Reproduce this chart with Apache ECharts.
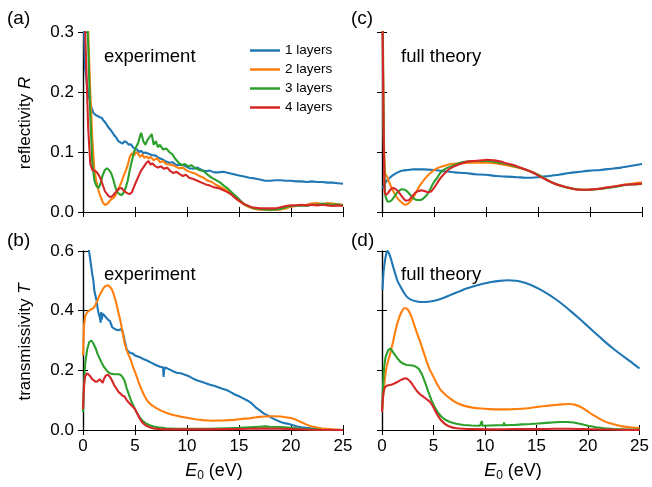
<!DOCTYPE html>
<html><head><meta charset="utf-8">
<script src="https://cdn.jsdelivr.net/npm/echarts@6/dist/echarts.min.js"></script>
<style>html,body{margin:0;padding:0;background:#fff}#c{width:652px;height:487px}</style>
</head><body><div id="c"></div>
<script>
const layerNames = ['1 layers','2 layers','3 layers','4 layers'];
const colors = ['#1f77b4','#ff7f0e','#2ca02c','#d62728'];

// (a) experiment reflectivity
const expR1 = [[0.05,0.33],[0.2,0.24],[0.4,0.21],[0.6,0.19],[0.8,0.175],[1.0,0.165],[1.2,0.162],[1.4,0.16],[1.6,0.158],[1.8,0.157],[2.0,0.152],[2.2,0.148],[2.4,0.142],[2.6,0.138],[2.8,0.133],[3.0,0.128],[3.2,0.124],[3.4,0.118],[3.6,0.116],[3.8,0.114],[4.0,0.118],[4.2,0.116],[4.4,0.112],[4.6,0.113],[4.8,0.108],[5.0,0.105],[5.2,0.104],[5.4,0.1],[5.6,0.102],[5.8,0.098],[6.0,0.099],[6.3,0.097],[6.6,0.095],[7.0,0.094],[7.3,0.09],[7.6,0.088],[8.0,0.084],[8.3,0.082],[8.6,0.083],[9.0,0.078],[9.4,0.079],[9.8,0.077],[10.2,0.073],[10.6,0.072],[11.0,0.074],[11.4,0.07],[11.8,0.068],[12.2,0.069],[12.6,0.066],[13.0,0.066],[13.5,0.067],[14.0,0.065],[14.5,0.063],[15.0,0.061],[15.5,0.059],[16.0,0.057],[16.5,0.056],[17.0,0.054],[17.5,0.052],[18.0,0.052],[18.5,0.053],[19.0,0.053],[19.5,0.052],[20.0,0.052],[20.5,0.051],[21.0,0.051],[21.5,0.05],[22.0,0.051],[22.5,0.05],[23.0,0.05],[23.5,0.049],[24.0,0.049],[24.5,0.048],[25.0,0.047]];
const expR2 = [[0.3,0.35],[0.5,0.3],[0.7,0.2],[0.9,0.12],[1.1,0.068],[1.3,0.05],[1.5,0.035],[1.7,0.025],[1.9,0.016],[2.1,0.012],[2.3,0.013],[2.5,0.017],[2.7,0.021],[2.9,0.023],[3.1,0.027],[3.3,0.035],[3.5,0.042],[3.7,0.05],[3.9,0.06],[4.1,0.068],[4.3,0.078],[4.5,0.092],[4.7,0.098],[4.9,0.094],[5.1,0.1],[5.3,0.097],[5.5,0.092],[5.7,0.096],[5.9,0.09],[6.1,0.093],[6.3,0.089],[6.5,0.092],[6.8,0.086],[7.1,0.09],[7.4,0.083],[7.7,0.085],[8.0,0.08],[8.4,0.079],[8.8,0.077],[9.2,0.073],[9.6,0.074],[10.0,0.069],[10.4,0.066],[10.8,0.064],[11.2,0.06],[11.6,0.057],[12.0,0.052],[12.4,0.05],[12.8,0.045],[13.2,0.042],[13.6,0.038],[14.0,0.034],[14.4,0.028],[14.8,0.021],[15.2,0.016],[15.6,0.011],[16.0,0.008],[16.5,0.005],[17.0,0.004],[17.5,0.004],[18.0,0.003],[18.5,0.004],[19.0,0.004],[19.5,0.006],[20.0,0.009],[20.5,0.01],[21.0,0.011],[21.5,0.012],[22.0,0.014],[22.5,0.015],[23.0,0.013],[23.5,0.015],[24.0,0.014],[24.5,0.013],[25.0,0.012]];
const expR3 = [[0.3,0.35],[0.5,0.28],[0.7,0.16],[0.9,0.08],[1.1,0.052],[1.3,0.043],[1.5,0.04],[1.7,0.048],[1.9,0.062],[2.1,0.07],[2.3,0.073],[2.5,0.07],[2.7,0.065],[2.9,0.055],[3.1,0.042],[3.3,0.033],[3.5,0.03],[3.7,0.028],[3.9,0.032],[4.1,0.04],[4.3,0.052],[4.5,0.07],[4.7,0.085],[4.9,0.1],[5.1,0.108],[5.3,0.115],[5.5,0.128],[5.6,0.132],[5.8,0.118],[6.0,0.112],[6.2,0.12],[6.4,0.125],[6.6,0.13],[6.8,0.112],[7.0,0.118],[7.2,0.108],[7.4,0.112],[7.7,0.104],[8.0,0.106],[8.3,0.1],[8.6,0.096],[8.9,0.088],[9.2,0.082],[9.5,0.078],[9.8,0.08],[10.1,0.076],[10.4,0.078],[10.8,0.073],[11.2,0.07],[11.6,0.068],[12.0,0.062],[12.4,0.057],[12.8,0.053],[13.2,0.049],[13.6,0.043],[14.0,0.038],[14.4,0.031],[14.8,0.025],[15.2,0.018],[15.6,0.012],[16.0,0.009],[16.5,0.006],[17.0,0.005],[17.5,0.004],[18.0,0.004],[18.5,0.004],[19.0,0.005],[19.5,0.008],[20.0,0.01],[20.5,0.01],[21.0,0.011],[21.5,0.01],[22.0,0.012],[22.5,0.012],[23.0,0.014],[23.5,0.013],[24.0,0.012],[24.5,0.013],[25.0,0.011]];
const expR4 = [[0.15,0.33],[0.3,0.25],[0.5,0.14],[0.7,0.08],[0.9,0.07],[1.1,0.069],[1.3,0.067],[1.5,0.062],[1.7,0.055],[1.9,0.045],[2.1,0.035],[2.3,0.03],[2.5,0.026],[2.7,0.025],[2.9,0.028],[3.1,0.032],[3.3,0.036],[3.5,0.039],[3.7,0.04],[3.9,0.036],[4.1,0.033],[4.3,0.031],[4.5,0.03],[4.7,0.033],[4.9,0.042],[5.1,0.05],[5.3,0.058],[5.5,0.066],[5.7,0.072],[5.9,0.077],[6.1,0.082],[6.3,0.085],[6.5,0.079],[6.7,0.081],[6.9,0.077],[7.2,0.074],[7.5,0.076],[7.8,0.072],[8.1,0.074],[8.4,0.068],[8.7,0.065],[9.0,0.067],[9.3,0.063],[9.6,0.06],[9.9,0.062],[10.2,0.057],[10.6,0.055],[11.0,0.052],[11.4,0.049],[11.8,0.046],[12.2,0.044],[12.6,0.041],[13.0,0.04],[13.4,0.037],[13.8,0.034],[14.2,0.03],[14.6,0.024],[15.0,0.019],[15.4,0.014],[15.8,0.011],[16.2,0.008],[16.6,0.007],[17.0,0.006],[17.5,0.006],[18.0,0.006],[18.5,0.006],[19.0,0.008],[19.5,0.01],[20.0,0.011],[20.5,0.011],[21.0,0.012],[21.5,0.011],[22.0,0.012],[22.5,0.011],[23.0,0.012],[23.5,0.011],[24.0,0.01],[24.5,0.011],[25.0,0.01]];

// (b) experiment transmissivity
const expT1 = [[0.5,0.62],[0.7,0.57],[0.9,0.52],[1.0,0.5],[1.1,0.465],[1.2,0.45],[1.3,0.435],[1.4,0.41],[1.5,0.39],[1.6,0.38],[1.7,0.36],[1.75,0.395],[1.8,0.37],[1.9,0.39],[2.0,0.385],[2.2,0.378],[2.4,0.37],[2.6,0.365],[2.8,0.345],[3.0,0.34],[3.2,0.336],[3.4,0.334],[3.6,0.338],[3.8,0.332],[4.0,0.3],[4.2,0.27],[4.4,0.262],[4.6,0.258],[4.8,0.256],[5.0,0.25],[5.4,0.245],[5.8,0.238],[6.2,0.232],[6.6,0.225],[7.0,0.218],[7.4,0.212],[7.7,0.21],[7.75,0.178],[7.8,0.2],[7.9,0.21],[8.2,0.205],[8.6,0.198],[9.0,0.192],[9.4,0.19],[9.8,0.185],[10.2,0.18],[10.6,0.172],[11.0,0.166],[11.4,0.162],[11.8,0.157],[12.2,0.152],[12.6,0.148],[13.0,0.143],[13.4,0.138],[13.8,0.134],[14.2,0.127],[14.6,0.119],[15.0,0.113],[15.4,0.106],[15.8,0.099],[16.2,0.09],[16.6,0.076],[17.0,0.066],[17.4,0.055],[17.8,0.048],[18.2,0.04],[18.6,0.033],[19.0,0.027],[19.4,0.023],[19.8,0.02],[20.2,0.016],[20.6,0.012],[21.0,0.009],[21.5,0.007],[22.0,0.005],[23.0,0.002],[24.0,0.001],[25.0,0.0]];
const expT2 = [[0.0,0.25],[0.1,0.35],[0.2,0.38],[0.4,0.395],[0.6,0.4],[0.8,0.405],[1.0,0.408],[1.2,0.42],[1.4,0.435],[1.6,0.452],[1.8,0.465],[2.0,0.477],[2.2,0.483],[2.4,0.485],[2.6,0.48],[2.8,0.47],[3.0,0.45],[3.2,0.425],[3.4,0.395],[3.6,0.365],[3.8,0.33],[4.0,0.29],[4.2,0.268],[4.4,0.25],[4.6,0.234],[4.8,0.212],[5.0,0.195],[5.3,0.165],[5.6,0.138],[5.9,0.115],[6.2,0.097],[6.6,0.083],[7.0,0.074],[7.5,0.065],[8.0,0.058],[8.5,0.052],[9.0,0.048],[9.5,0.044],[10.0,0.041],[10.5,0.038],[11.0,0.035],[11.5,0.033],[12.0,0.032],[12.5,0.031],[13.0,0.032],[13.5,0.032],[14.0,0.033],[14.5,0.034],[15.0,0.036],[15.5,0.038],[16.0,0.039],[16.5,0.042],[17.0,0.044],[17.5,0.045],[18.0,0.046],[18.5,0.046],[19.0,0.045],[19.5,0.043],[20.0,0.04],[20.5,0.034],[21.0,0.026],[21.5,0.018],[22.0,0.012],[22.5,0.008],[23.0,0.005],[24.0,0.002],[25.0,0.0]];
const expT3 = [[0.0,0.06],[0.1,0.15],[0.2,0.22],[0.4,0.27],[0.6,0.295],[0.8,0.3],[1.0,0.29],[1.2,0.275],[1.4,0.255],[1.6,0.24],[1.8,0.225],[2.0,0.212],[2.2,0.203],[2.4,0.195],[2.6,0.19],[2.8,0.188],[3.0,0.187],[3.2,0.187],[3.4,0.187],[3.6,0.185],[3.8,0.178],[4.0,0.165],[4.2,0.14],[4.4,0.12],[4.6,0.1],[4.8,0.085],[5.0,0.07],[5.2,0.056],[5.4,0.045],[5.7,0.032],[6.0,0.023],[6.4,0.016],[6.8,0.012],[7.2,0.009],[8.0,0.006],[9.0,0.004],[10.0,0.004],[11.0,0.004],[12.0,0.004],[13.0,0.005],[14.0,0.006],[15.0,0.007],[16.0,0.009],[17.0,0.011],[17.5,0.012],[18.0,0.011],[19.0,0.01],[20.0,0.007],[21.0,0.004],[22.0,0.002],[23.0,0.001],[25.0,0.0]];
const expT4 = [[0.0,0.07],[0.1,0.15],[0.2,0.18],[0.4,0.19],[0.5,0.192],[0.7,0.18],[0.9,0.17],[1.0,0.175],[1.2,0.162],[1.4,0.163],[1.5,0.158],[1.6,0.17],[1.7,0.165],[1.9,0.158],[2.0,0.17],[2.2,0.183],[2.4,0.185],[2.6,0.178],[2.8,0.165],[3.0,0.15],[3.2,0.14],[3.4,0.128],[3.6,0.122],[3.8,0.115],[4.0,0.112],[4.2,0.1],[4.4,0.092],[4.6,0.085],[4.8,0.078],[5.0,0.07],[5.2,0.056],[5.4,0.042],[5.6,0.03],[5.8,0.022],[6.0,0.016],[6.4,0.009],[6.8,0.005],[7.4,0.003],[8.0,0.002],[10.0,0.002],[12.0,0.002],[14.0,0.003],[16.0,0.004],[17.5,0.005],[19.0,0.004],[20.0,0.003],[22.0,0.001],[25.0,0.0]];

// (c) full theory reflectivity
const thR1 = [[0.05,0.04],[0.3,0.048],[0.5,0.053],[0.8,0.058],[1.1,0.062],[1.5,0.066],[2.0,0.069],[2.5,0.07],[3.0,0.071],[4.0,0.071],[5.0,0.07],[6.0,0.068],[7.0,0.066],[8.0,0.065],[9.0,0.063],[10.0,0.062],[11.0,0.06],[12.0,0.059],[13.0,0.058],[14.0,0.057],[15.0,0.058],[16.0,0.06],[17.0,0.062],[18.0,0.065],[19.0,0.067],[20.0,0.069],[21.0,0.07],[22.0,0.072],[23.0,0.074],[24.0,0.077],[25.0,0.08]];
const thR2 = [[0.08,0.32],[0.15,0.15],[0.3,0.065],[0.5,0.058],[0.8,0.045],[1.1,0.034],[1.4,0.025],[1.8,0.017],[2.2,0.012],[2.5,0.014],[2.8,0.019],[3.1,0.027],[3.4,0.037],[3.8,0.048],[4.3,0.059],[4.8,0.067],[5.3,0.073],[6.0,0.077],[6.6,0.08],[7.5,0.081],[8.2,0.082],[9.0,0.082],[10.1,0.082],[11.0,0.081],[12.0,0.078],[13.0,0.074],[13.9,0.07],[15.0,0.062],[15.9,0.053],[16.8,0.046],[17.8,0.041],[18.7,0.038],[19.7,0.037],[20.6,0.038],[21.6,0.04],[22.5,0.043],[23.5,0.046],[24.3,0.048],[25.0,0.049]];
const thR3 = [[0.08,0.32],[0.15,0.15],[0.3,0.03],[0.45,0.02],[0.6,0.017],[0.8,0.018],[1.0,0.021],[1.2,0.026],[1.4,0.031],[1.7,0.036],[1.9,0.038],[2.2,0.037],[2.5,0.033],[2.8,0.027],[3.1,0.022],[3.4,0.02],[3.7,0.02],[4.0,0.023],[4.3,0.028],[4.6,0.037],[4.9,0.047],[5.3,0.057],[5.6,0.065],[6.2,0.073],[6.9,0.078],[7.5,0.082],[8.2,0.084],[9.0,0.085],[10.1,0.085],[11.0,0.083],[12.0,0.08],[13.0,0.075],[13.9,0.07],[15.0,0.062],[15.9,0.053],[16.8,0.046],[17.8,0.041],[18.7,0.038],[19.7,0.037],[20.6,0.038],[21.6,0.04],[22.5,0.042],[23.5,0.045],[24.3,0.046],[25.0,0.047]];
const thR4 = [[0.05,0.32],[0.15,0.15],[0.25,0.034],[0.4,0.029],[0.55,0.031],[0.8,0.037],[1.1,0.04],[1.4,0.037],[1.7,0.031],[2.0,0.024],[2.3,0.019],[2.6,0.02],[2.9,0.026],[3.2,0.032],[3.5,0.035],[3.8,0.036],[4.1,0.035],[4.4,0.033],[4.7,0.034],[5.0,0.04],[5.3,0.048],[5.6,0.056],[6.1,0.066],[6.6,0.073],[7.5,0.08],[8.2,0.084],[8.8,0.085],[9.5,0.086],[10.1,0.087],[10.8,0.086],[11.4,0.084],[12.0,0.081],[12.7,0.078],[13.3,0.074],[13.9,0.07],[14.6,0.065],[15.2,0.059],[15.9,0.053],[16.5,0.048],[17.2,0.044],[17.8,0.041],[18.5,0.038],[19.1,0.037],[19.8,0.037],[20.4,0.038],[21.0,0.039],[21.6,0.041],[22.5,0.043],[23.2,0.045],[24.0,0.046],[25.0,0.047]];

// (d) full theory transmissivity
const thT1 = [[0.05,0.47],[0.15,0.53],[0.3,0.57],[0.45,0.595],[0.55,0.6],[0.7,0.59],[0.9,0.57],[1.1,0.545],[1.3,0.522],[1.5,0.5],[1.8,0.48],[2.1,0.462],[2.4,0.447],[2.8,0.437],[3.4,0.431],[4.0,0.429],[4.5,0.43],[5.3,0.435],[6.0,0.443],[6.6,0.452],[7.4,0.463],[8.2,0.474],[9.0,0.483],[9.8,0.49],[10.6,0.496],[11.4,0.5],[12.3,0.502],[13.0,0.5],[13.6,0.496],[14.4,0.487],[15.2,0.474],[16.0,0.458],[16.8,0.44],[17.6,0.419],[18.4,0.396],[19.2,0.372],[20.0,0.347],[20.8,0.322],[21.6,0.297],[22.4,0.274],[23.2,0.253],[24.1,0.23],[25.0,0.206]];
const thT2 = [[0.0,0.07],[0.15,0.13],[0.3,0.178],[0.5,0.22],[0.8,0.256],[1.1,0.3],[1.4,0.346],[1.7,0.38],[1.9,0.396],[2.2,0.409],[2.5,0.404],[2.8,0.385],[3.1,0.355],[3.4,0.325],[3.7,0.296],[4.0,0.265],[4.3,0.234],[4.6,0.205],[5.0,0.178],[5.3,0.157],[5.6,0.139],[6.1,0.12],[6.6,0.106],[7.0,0.096],[7.5,0.087],[8.1,0.08],[8.8,0.075],[9.6,0.072],[10.4,0.07],[11.2,0.069],[12.0,0.069],[12.8,0.07],[13.6,0.071],[14.4,0.074],[15.2,0.078],[16.0,0.081],[16.8,0.084],[17.5,0.086],[18.1,0.087],[18.7,0.085],[19.3,0.077],[19.9,0.064],[20.4,0.052],[21.0,0.04],[21.6,0.029],[22.4,0.02],[23.2,0.013],[24.1,0.009],[25.0,0.006]];
const thT3 = [[0.0,0.06],[0.1,0.15],[0.2,0.21],[0.35,0.245],[0.6,0.268],[0.8,0.273],[1.0,0.265],[1.2,0.254],[1.5,0.24],[1.8,0.228],[2.1,0.222],[2.4,0.218],[2.7,0.217],[3.0,0.216],[3.3,0.212],[3.6,0.204],[3.9,0.185],[4.2,0.158],[4.5,0.128],[4.8,0.1],[5.1,0.078],[5.4,0.06],[5.7,0.047],[6.1,0.035],[6.6,0.027],[7.2,0.021],[7.9,0.017],[8.7,0.015],[9.5,0.014],[9.65,0.014],[9.7,0.03],[9.75,0.014],[10.4,0.015],[11.2,0.016],[11.8,0.016],[11.85,0.025],[11.9,0.016],[12.5,0.017],[12.8,0.017],[12.85,0.022],[12.9,0.017],[13.6,0.019],[14.4,0.02],[15.2,0.022],[16.0,0.024],[16.8,0.026],[17.4,0.027],[18.0,0.027],[18.6,0.025],[19.3,0.02],[20.0,0.014],[20.8,0.009],[21.6,0.006],[22.5,0.003],[23.5,0.002],[25.0,0.001]];
const thT4 = [[0.0,0.06],[0.1,0.11],[0.2,0.135],[0.35,0.146],[0.6,0.15],[0.9,0.152],[1.2,0.156],[1.5,0.161],[1.8,0.167],[2.1,0.172],[2.3,0.173],[2.5,0.17],[2.8,0.16],[3.1,0.145],[3.4,0.13],[3.7,0.12],[4.0,0.112],[4.3,0.104],[4.6,0.096],[4.9,0.082],[5.2,0.062],[5.5,0.044],[5.8,0.03],[6.2,0.018],[6.6,0.011],[7.2,0.006],[7.9,0.004],[9.0,0.003],[11.0,0.002],[13.0,0.003],[15.0,0.003],[16.8,0.004],[18.0,0.004],[19.5,0.003],[21.0,0.002],[23.0,0.001],[25.0,0.0]];

const panels = [
  {data:[expR1,expR2,expR3,expR4], smooth:false},
  {data:[expT1,expT2,expT3,expT4], smooth:false},
  {data:[thR1,thR2,thR3,thR4], smooth:true},
  {data:[thT1,thT2,thT3,thT4], smooth:true}
];
const yMax = [0.3, 0.6, 0.3, 0.6];
const yInterval = [0.1, 0.2, 0.1, 0.2];
const xMax = 25, xInterval = 5;

const FONT = 'Liberation Sans, Arial, Helvetica, sans-serif';
const grids = [
  {left:83, top:32, width:260, height:180},
  {left:83, top:251, width:260, height:179},
  {left:382, top:32, width:260, height:180},
  {left:382, top:251, width:260, height:179}
];
const axisLine = {show:true, lineStyle:{color:'#000', width:1.2}};
const tick = {show:true, inside:true, length:5, lineStyle:{color:'#000', width:1}};
const xAxes = [], yAxes = [];
for (let pos of ['bottom','top']) {
  grids.forEach((g,i)=>{
    const showLab = pos==='bottom' && (i===1 || i===3);
    xAxes.push({type:'value', gridIndex:i, position:pos, min:0, max:xMax, interval:xInterval,
      axisLine, axisTick:tick, splitLine:{show:false},
      axisLabel:{show:showLab, fontSize:17, color:'#000', margin:8, fontFamily:FONT}});
  });
}
for (let pos of ['left','right']) {
  grids.forEach((g,i)=>{
    const showLab = pos==='left' && (i===0 || i===1);
    yAxes.push({type:'value', gridIndex:i, position:pos, min:0, max:yMax[i], interval:yInterval[i],
      axisLine, axisTick:tick, splitLine:{show:false},
      axisLabel:{show:showLab, fontSize:17, color:'#000', margin:9, fontFamily:FONT,
        formatter:v=>v.toFixed(1)}});
  });
}
const series = [];
panels.forEach((p,i)=>{
  p.data.forEach((d,k)=>{
    series.push({type:'line', name:layerNames[k], xAxisIndex:i, yAxisIndex:i, data:d,
      showSymbol:false, symbol:'none', smooth: (p.smooth && !(i===3 && k===2)) ? 0.25 : false,
      clip:true, lineStyle:{color:colors[k], width:2.1}, itemStyle:{color:colors[k]},
      silent:true, animation:false});
  });
});

function txt(x,y,text,size){return {type:'text', x, y, silent:true,
  style:{text, font:size+'px '+FONT, fill:'#000', verticalAlign:'middle'}};}

const graphic = [
  txt(7,19,'(a)',19), txt(7,241,'(b)',19), txt(351,19,'(c)',19), txt(351,241,'(d)',19),
  txt(104,57,'experiment',18.5), txt(104,275,'experiment',18.5),
  txt(401,57,'full theory',18.5), txt(401,275,'full theory',18.5),
  {type:'text', x:25, y:123, rotation:Math.PI/2, silent:true,
    style:{text:'{n|reflectivity }{i|R}', align:'center', verticalAlign:'middle',
      rich:{n:{font:'17px '+FONT, fill:'#000'}, i:{font:'italic 17px '+FONT, fill:'#000'}}}},
  {type:'text', x:25, y:342, rotation:Math.PI/2, silent:true,
    style:{text:'{n|transmissivity }{i|T}', align:'center', verticalAlign:'middle',
      rich:{n:{font:'17px '+FONT, fill:'#000'}, i:{font:'italic 17px '+FONT, fill:'#000'}}}},
];
[214, 513].forEach(cx=>{
  graphic.push({type:'text', x:cx, y:471, silent:true,
    style:{text:'{i|E}{s|0}{n| (eV)}', align:'center', verticalAlign:'middle',
      rich:{i:{font:'italic 18px '+FONT, fill:'#000', lineHeight:22, verticalAlign:'middle'},
            s:{font:'12px '+FONT, fill:'#000', lineHeight:9, verticalAlign:'bottom'},
            n:{font:'18px '+FONT, fill:'#000', lineHeight:22, verticalAlign:'middle'}}}});
});

const chart = echarts.init(document.getElementById('c'), null, {renderer:'canvas'});
chart.setOption({
  animation:false,
  backgroundColor:'#fff',
  grid:grids, xAxis:xAxes, yAxis:yAxes, series,
  legend:{data:layerNames, orient:'vertical', left:245, top:38, icon:'rect', itemWidth:30, itemHeight:2.5,
    itemGap:4, selectedMode:false, textStyle:{fontSize:13.5, fontFamily:FONT, color:'#000', lineHeight:15}},
  graphic
});
</script></body></html>
